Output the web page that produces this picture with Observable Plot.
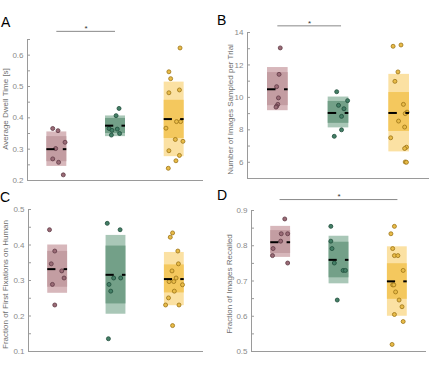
<!DOCTYPE html>
<html>
<head>
<meta charset="utf-8">
<script src="https://cdn.jsdelivr.net/npm/d3@7"></script>
<script src="https://cdn.jsdelivr.net/npm/@observablehq/plot@0.6"></script>
<style>
  html, body { margin: 0; padding: 0; background: #fff; }
  #wrap { position: relative; width: 434px; height: 365px; overflow: hidden; font-family: "Liberation Sans", Arial, sans-serif; }
  .panel { position: absolute; }
  .letter { position: absolute; font-size: 14px; line-height: 1; color: #000; }
</style>
</head>
<body>
<div id="wrap"></div>
<script>
// ---------- DATA ----------
const groups = [1, 2, 3]; // red, green, yellow conditions

// Panel A: Average Dwell Time [s]
const dwellRed = [0.366, 0.359, 0.322, 0.302, 0.269, 0.258, 0.218];
const dwellRedJitter = [-0.07, 0.02, 0.14, -0.02, -0.07, 0.03, 0.11];
const dwellGreen = [0.430, 0.407, 0.366, 0.360, 0.364, 0.350, 0.345];
const dwellGreenJitter = [0.06, 0.01, -0.11, -0.06, 0.03, 0.07, -0.07];
const dwellYellow = [0.623, 0.547, 0.525, 0.480, 0.489, 0.388, 0.388, 0.367, 0.331, 0.325, 0.295, 0.280, 0.263, 0.239];
const dwellYellowJitter = [0.10, -0.09, -0.06, -0.09, 0.09, 0.04, 0.11, -0.14, 0.02, 0.15, -0.09, 0.09, 0.03, -0.10];
const dwellOuterLo = [0.245, 0.340, 0.276];
const dwellOuterHi = [0.355, 0.406, 0.514];
const dwellInnerLo = [0.260, 0.350, 0.334];
const dwellInnerHi = [0.340, 0.398, 0.456];
const dwellMedian = [0.300, 0.375, 0.396];
const dwellTicks = [0.2, 0.3, 0.4, 0.5, 0.6];
const dwellMinor = [0.25, 0.35, 0.45, 0.55, 0.65];

// Panel B: Number of Images Sampled per Trial
const sampledRed = [13.05, 11.42, 10.66, 9.97, 9.57, 9.45, 9.40];
const sampledRedJitter = [0.04, 0.02, -0.02, 0.01, 0.00, -0.02, -0.03];
const sampledGreen = [10.35, 9.80, 9.51, 9.30, 8.83, 8.00, 7.60];
const sampledGreenJitter = [-0.03, 0.15, 0.00, 0.09, 0.05, 0.05, -0.07];
const sampledYellow = [13.15, 13.23, 11.57, 10.99, 9.57, 9.09, 9.00, 8.54, 8.17, 7.51, 6.93, 6.85, 6.02, 6.00];
const sampledYellowJitter = [-0.10, 0.03, -0.02, -0.07, 0.07, 0.13, 0.10, -0.01, 0.09, -0.14, 0.12, 0.09, 0.10, 0.12];
const sampledOuterLo = [9.18, 8.12, 6.64];
const sampledOuterHi = [11.84, 10.02, 11.42];
const sampledInnerLo = [9.49, 8.40, 7.90];
const sampledInnerHi = [11.53, 9.75, 10.30];
const sampledMedian = [10.50, 9.04, 9.04];
const sampledTicks = [6, 8, 10, 12, 14];
const sampledMinor = [5, 7, 9, 11, 13];

// Panel C: Fraction of First Fixations on Human
const firstRed = [0.443, 0.383, 0.347, 0.327, 0.307, 0.289, 0.231];
const firstRedJitter = [-0.14, -0.05, -0.11, 0.07, 0.11, -0.09, -0.05];
const firstGreen = [0.461, 0.443, 0.307, 0.307, 0.289, 0.270, 0.136];
const firstGreenJitter = [-0.15, 0.07, -0.04, 0.08, -0.12, -0.09, -0.13];
const firstYellow = [0.434, 0.422, 0.383, 0.347, 0.327, 0.307, 0.297, 0.297, 0.288, 0.270, 0.251, 0.231, 0.231, 0.173];
const firstYellowJitter = [-0.03, -0.07, 0.06, 0.07, -0.04, 0.03, -0.09, -0.01, 0.14, 0.00, -0.10, -0.15, 0.08, -0.03];
const firstOuterLo = [0.264, 0.205, 0.229];
const firstOuterHi = [0.400, 0.427, 0.379];
const firstInnerLo = [0.281, 0.234, 0.265];
const firstInnerHi = [0.382, 0.397, 0.344];
const firstMedian = [0.332, 0.316, 0.304];
const firstTicks = [0.1, 0.2, 0.3, 0.4, 0.5];
const firstMinor = [0.15, 0.25, 0.35, 0.45];

// Panel D: Fraction of Images Recalled
const recallRed = [0.876, 0.834, 0.834, 0.813, 0.792, 0.772, 0.751];
const recallRedJitter = [0.07, 0.01, 0.12, 0.00, -0.13, -0.14, 0.12];
const recallGreen = [0.855, 0.813, 0.792, 0.751, 0.730, 0.730, 0.646];
const recallGreenJitter = [-0.14, -0.14, -0.12, -0.08, 0.07, 0.11, -0.03];
const recallYellow = [0.855, 0.834, 0.792, 0.772, 0.772, 0.730, 0.689, 0.689, 0.669, 0.646, 0.627, 0.605, 0.585, 0.520];
const recallYellowJitter = [-0.05, -0.11, -0.08, -0.05, 0.01, 0.10, -0.08, -0.06, -0.03, 0.03, 0.08, -0.05, 0.10, -0.09];
const recallOuterLo = [0.767, 0.692, 0.600];
const recallOuterHi = [0.855, 0.827, 0.797];
const recallInnerLo = [0.778, 0.709, 0.648];
const recallInnerHi = [0.843, 0.810, 0.749];
const recallMedian = [0.810, 0.760, 0.699];
const recallTicks = [0.5, 0.6, 0.7, 0.8, 0.9];
const recallMinor = [0.55, 0.65, 0.75, 0.85];

// significance brackets: [from group, to group, line value, star value]
const sigA = [1.0, 2.0, 0.676, 0.692];
const sigB = [1.0, 2.05, 14.41, 14.70];
const sigD = [0.99, 3.01, 0.931, 0.945];

// ---------- STYLES ----------
const outerFill = ["#d7b7bb", "#a9c7b7", "#fbe1a3"];
const innerFill = ["#c39da2", "#73a088", "#f4c85e"];
const dotFill = ["#9a6b76", "#447f66", "#e8bb48"];
const dotStroke = ["#5f3a45", "#1f4d3b", "#9c7416"];
const axisColor = "#9a9a9a";
const textColor = "#8a8a8a";
const HALF = 0.17;
const fmt = d3.format("~g");

function panel(cfg) {
  const {width, height, mL, mR, mT, mB, domain, ticks, minor, label, labelDx, labelDy,
         series, jitters, outerLo, outerHi, innerLo, innerHi, median, sig} = cfg;
  const pxPerUnit = (width - mL - mR) / 3;
  const tickLen = 3 / pxPerUnit;
  const boxes = groups.map((g, i) => ({g, i, oLo: outerLo[i], oHi: outerHi[i], iLo: innerLo[i], iHi: innerHi[i], med: median[i]}));
  const dots = [];
  series.forEach((vals, i) => vals.forEach((v, k) => dots.push({i, x: groups[i] + jitters[i][k], y: v})));
  const marks = [
    Plot.rect(boxes, {x1: d => d.g - HALF, x2: d => d.g + HALF, y1: "oLo", y2: "oHi", fill: d => outerFill[d.i]}),
    Plot.rect(boxes, {x1: d => d.g - HALF, x2: d => d.g + HALF, y1: "iLo", y2: "iHi", fill: d => innerFill[d.i]}),
    Plot.ruleX([0.5], {y1: domain[0], y2: domain[1], stroke: axisColor}),
    Plot.ruleY([domain[0]], {x1: 0.5, x2: 3.5, stroke: axisColor}),
    Plot.ruleY(ticks, {x1: 0.5, x2: 0.5 + tickLen, stroke: axisColor}),
    Plot.ruleY(minor, {x1: 0.5, x2: 0.5 + tickLen, stroke: axisColor}),
    Plot.axisY({ticks, tickSize: 0, tickPadding: 4, tickFormat: fmt, fill: textColor, fontSize: 8, label: null}),
    Plot.text([label], {frameAnchor: "left", rotate: -90, dx: labelDx, dy: labelDy || 0, fill: "#6f6f6f", fontSize: 8, textAnchor: "middle", lineAnchor: "middle"}),
    Plot.dot(dots, {x: "x", y: "y", r: 2, fill: d => dotFill[d.i], stroke: d => dotStroke[d.i], strokeWidth: 0.8}),
    Plot.ruleY(boxes, {y: "med", x1: d => d.g - HALF, x2: d => d.g - 0.03, stroke: "#000", strokeWidth: 2}),
    Plot.ruleY(boxes, {y: "med", x1: d => d.g + 0.11, x2: d => d.g + HALF, stroke: "#000", strokeWidth: 2})
  ];
  if (sig) {
    marks.push(Plot.ruleY([sig[2]], {x1: sig[0], x2: sig[1], stroke: "#888", strokeWidth: 1}));
    marks.push(Plot.text(["*"], {x: (sig[0] + sig[1]) / 2, y: sig[3], fill: "#333", fontSize: 8, dy: 2}));
  }
  return Plot.plot({
    width, height,
    marginLeft: mL, marginRight: mR, marginTop: mT, marginBottom: mB,
    style: {fontFamily: "'Liberation Sans', Arial, sans-serif", fontSize: "8px", background: "transparent", overflow: "visible"},
    x: {domain: [0.5, 3.5], axis: null},
    y: {domain, axis: null},
    marks
  });
}

const wrap = document.getElementById("wrap");
function place(el, left, top) {
  el.classList.add("panel");
  el.style.left = left + "px";
  el.style.top = top + "px";
  wrap.appendChild(el);
}
function letter(t, left, top) {
  const d = document.createElement("div");
  d.className = "letter";
  d.textContent = t;
  d.style.left = left + "px";
  d.style.top = top + "px";
  wrap.appendChild(d);
}

place(panel({width: 217, height: 182, mL: 27, mR: 14, mT: 39, mB: 2, domain: [0.2, 0.65],
  ticks: dwellTicks, minor: dwellMinor, label: "Average Dwell Time [s]", labelDx: -22, labelDy: -1,
  series: [dwellRed, dwellGreen, dwellYellow], jitters: [dwellRedJitter, dwellGreenJitter, dwellYellowJitter],
  outerLo: dwellOuterLo, outerHi: dwellOuterHi, innerLo: dwellInnerLo, innerHi: dwellInnerHi, median: dwellMedian, sig: sigA}), 0, 0);

place(panel({width: 217, height: 182, mL: 30, mR: 5, mT: 32, mB: 4, domain: [5, 14],
  ticks: sampledTicks, minor: sampledMinor, label: "Number of Images Sampled per Trial", labelDx: -17, labelDy: 4,
  series: [sampledRed, sampledGreen, sampledYellow], jitters: [sampledRedJitter, sampledGreenJitter, sampledYellowJitter],
  outerLo: sampledOuterLo, outerHi: sampledOuterHi, innerLo: sampledInnerLo, innerHi: sampledInnerHi, median: sampledMedian, sig: sigB}), 217, 0);

place(panel({width: 217, height: 183, mL: 28, mR: 14, mT: 27, mB: 14, domain: [0.1, 0.5],
  ticks: firstTicks, minor: firstMinor, label: "Fraction of First Fixations on Human", labelDx: -23, labelDy: 4,
  series: [firstRed, firstGreen, firstYellow], jitters: [firstRedJitter, firstGreenJitter, firstYellowJitter],
  outerLo: firstOuterLo, outerHi: firstOuterHi, innerLo: firstInnerLo, innerHi: firstInnerHi, median: firstMedian, sig: null}), 0, 182);

place(panel({width: 217, height: 183, mL: 34, mR: 8, mT: 28, mB: 14, domain: [0.5, 0.9],
  ticks: recallTicks, minor: recallMinor, label: "Fraction of Images Recalled", labelDx: -22, labelDy: 3,
  series: [recallRed, recallGreen, recallYellow], jitters: [recallRedJitter, recallGreenJitter, recallYellowJitter],
  outerLo: recallOuterLo, outerHi: recallOuterHi, innerLo: recallInnerLo, innerHi: recallInnerHi, median: recallMedian, sig: sigD}), 217, 182);

letter("A", 1, 15);
letter("B", 217, 13);
letter("C", 0, 190);
letter("D", 217, 188);
</script>
</body>
</html>
